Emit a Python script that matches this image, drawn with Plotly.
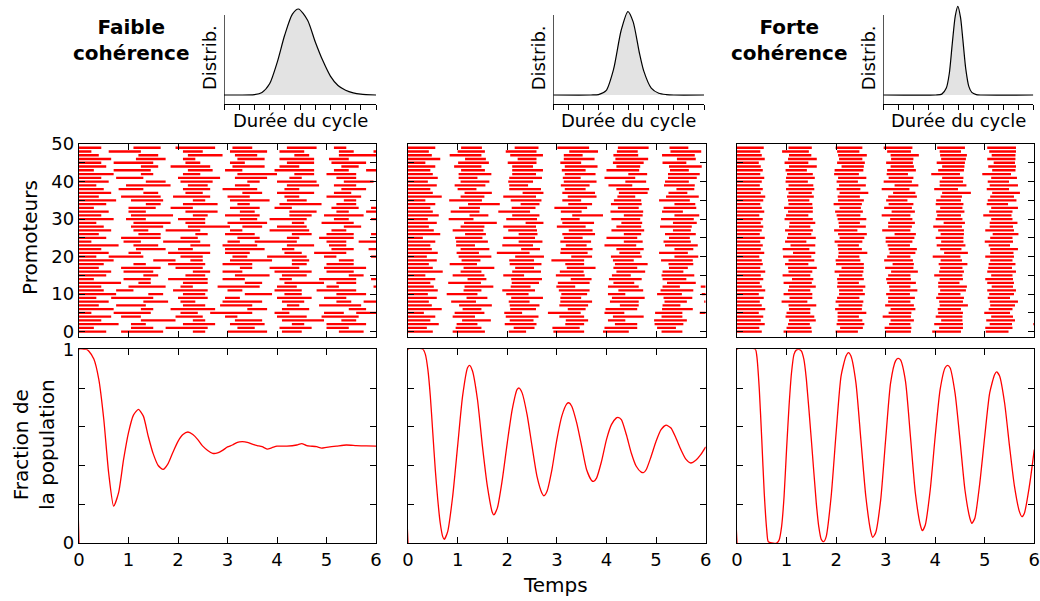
import plotly.graph_objects as go

W, H = 1040, 601

# ---- promoter rasters: alternating ON/OFF durations (hundredths of time unit), each row starts ON at t=0
weak_rows = [
    [55, 30, 85, 60, 25, 45, 80, 30, 40, 75, 50, 35, 70, 45],
    [30, 75, 45, 25, 85, 60, 35, 50, 65, 30, 45, 80, 35, 50],
    [80, 25, 30, 75, 65, 30, 70, 55, 25, 45, 80, 40, 30, 60],
    [45, 80, 70, 35, 25, 60, 55, 40, 85, 35, 30, 70, 55, 40],
    [65, 20, 40, 70, 55, 45, 25, 80, 60, 30, 75, 55, 35, 50],
    [25, 45, 75, 60, 35, 25, 85, 45, 30, 70, 40, 25, 65, 55],
    [70, 55, 25, 35, 90, 65, 40, 30, 55, 80, 35, 45, 60, 30],
    [40, 35, 60, 75, 45, 30, 65, 70, 25, 40, 85, 35, 50, 60],
    [60, 70, 50, 25, 30, 55, 80, 40, 45, 65, 30, 25, 75, 50],
    [35, 30, 85, 50, 60, 35, 30, 75, 70, 25, 45, 60, 40, 70],
    [75, 65, 30, 40, 45, 80, 55, 25, 35, 70, 60, 40, 30, 75],
    [50, 25, 35, 80, 70, 40, 30, 65, 55, 30, 80, 55, 45, 35],
    [45, 55, 75, 30, 25, 50, 85, 35, 40, 60, 25, 70, 65, 30],
    [85, 35, 25, 65, 50, 75, 35, 45, 80, 25, 40, 55, 30, 75],
    [30, 60, 55, 35, 80, 30, 45, 70, 25, 55, 75, 30, 45, 65],
    [55, 75, 30, 55, 40, 60, 70, 25, 50, 85, 30, 35, 60, 45],
    [65, 25, 60, 80, 35, 25, 40, 65, 75, 30, 55, 70, 25, 40],
    [40, 45, 80, 30, 55, 75, 25, 35, 60, 50, 85, 30, 40, 65],
    [50, 60, 25, 45, 75, 35, 60, 80, 30, 40, 55, 65, 35, 30],
    [70, 80, 45, 30, 25, 55, 85, 40, 35, 60, 30, 45, 75, 50],
    [35, 25, 70, 75, 45, 60, 30, 40, 80, 35, 25, 70, 55, 30],
    [60, 40, 25, 55, 85, 30, 50, 70, 35, 25, 65, 80, 40, 35],
    [45, 70, 60, 25, 30, 65, 80, 35, 25, 75, 45, 30, 70, 55],
    [80, 30, 50, 65, 40, 25, 70, 60, 55, 30, 35, 85, 45, 30],
    [25, 65, 35, 45, 75, 55, 25, 30, 85, 60, 40, 25, 65, 70],
    [55, 30, 80, 40, 35, 80, 45, 55, 25, 40, 70, 60, 30, 45],
    [40, 80, 45, 70, 25, 35, 60, 75, 40, 30, 55, 35, 80, 40],
    [65, 45, 30, 35, 70, 60, 25, 55, 80, 45, 30, 65, 40, 50],
    [50, 55, 65, 50, 85, 25, 40, 30, 60, 75, 35, 40, 70, 30],
    [35, 75, 75, 30, 40, 45, 80, 50, 25, 35, 65, 75, 30, 55],
    [70, 25, 40, 65, 55, 70, 35, 25, 75, 55, 30, 45, 85, 35],
    [45, 60, 85, 40, 30, 35, 70, 60, 45, 25, 80, 55, 35, 60],
    [60, 40, 35, 80, 65, 45, 30, 70, 55, 40, 25, 35, 75, 50],
    [30, 70, 55, 30, 45, 75, 60, 30, 35, 80, 55, 25, 60, 45],
    [55, 80, 30, 45, 70, 40, 25, 60, 85, 30, 40, 70, 30, 55],
    [75, 30, 65, 60, 25, 50, 80, 35, 40, 75, 25, 40, 65, 60],
    [40, 45, 80, 25, 75, 35, 45, 70, 30, 55, 70, 30, 55, 35],
    [65, 65, 30, 55, 35, 80, 40, 30, 75, 40, 35, 60, 85, 40],
    [50, 30, 50, 80, 55, 25, 70, 55, 30, 85, 50, 25, 40, 65],
    [35, 60, 90, 35, 40, 55, 30, 75, 65, 30, 45, 80, 25, 40],
    [60, 75, 40, 30, 65, 70, 25, 35, 80, 55, 60, 30, 45, 75],
    [45, 30, 55, 70, 85, 30, 65, 45, 25, 70, 40, 75, 30, 35],
    [70, 55, 25, 60, 35, 75, 80, 35, 40, 25, 60, 55, 70, 30],
    [30, 40, 75, 75, 50, 25, 35, 65, 80, 40, 30, 35, 85, 60],
    [55, 70, 35, 25, 80, 45, 65, 30, 40, 85, 35, 60, 30, 70],
    [45, 25, 80, 65, 30, 60, 30, 85, 55, 35, 70, 25, 60, 50],
    [65, 50, 60, 35, 25, 85, 55, 30, 70, 30, 40, 75, 65, 35],
    [40, 80, 40, 60, 70, 25, 45, 75, 30, 60, 85, 35, 30, 55],
    [25, 35, 65, 85, 40, 55, 75, 25, 50, 70, 30, 40, 80, 45],
    [45, 65, 55, 30, 80, 35, 40, 70, 60, 35, 25, 75, 50, 65],
]

mid_rows = [
    [50, 40, 65, 48, 35, 55, 62, 38, 52, 66, 42, 50, 58, 36],
    [38, 58, 52, 65, 42, 36, 55, 50, 66, 40, 38, 62, 50, 48],
    [62, 36, 42, 55, 64, 58, 38, 62, 45, 35, 58, 66, 40, 52],
    [45, 64, 58, 38, 48, 65, 45, 40, 35, 58, 66, 38, 62, 50],
    [55, 35, 45, 62, 66, 42, 50, 58, 62, 36, 42, 52, 64, 40],
    [32, 62, 60, 40, 36, 52, 66, 48, 40, 62, 55, 35, 48, 65],
    [68, 42, 38, 58, 52, 64, 36, 40, 64, 50, 62, 42, 36, 58],
    [48, 55, 66, 36, 60, 40, 58, 64, 38, 48, 36, 65, 58, 42],
    [42, 45, 50, 66, 42, 62, 64, 36, 58, 52, 45, 35, 66, 50],
    [58, 60, 42, 48, 64, 35, 42, 62, 66, 38, 58, 62, 36, 48],
    [40, 38, 62, 58, 45, 66, 52, 42, 35, 64, 50, 40, 62, 58],
    [60, 52, 36, 42, 66, 48, 62, 58, 50, 35, 66, 55, 42, 38],
    [52, 62, 58, 35, 40, 52, 38, 66, 62, 48, 35, 42, 64, 62],
    [45, 36, 66, 62, 55, 38, 64, 48, 42, 66, 58, 35, 52, 42],
    [55, 65, 38, 50, 62, 58, 42, 35, 66, 42, 48, 64, 38, 62],
    [35, 55, 64, 38, 42, 64, 58, 55, 38, 62, 66, 42, 50, 36],
    [70, 36, 42, 62, 58, 38, 48, 66, 58, 35, 42, 62, 66, 48],
    [50, 62, 62, 42, 38, 66, 58, 36, 48, 64, 38, 55, 42, 64],
    [42, 42, 55, 66, 64, 48, 38, 62, 66, 42, 50, 38, 62, 55],
    [58, 50, 38, 58, 50, 35, 66, 58, 42, 55, 64, 62, 38, 42],
    [38, 64, 66, 48, 58, 55, 42, 38, 62, 66, 48, 42, 58, 64],
    [60, 38, 45, 36, 66, 62, 55, 64, 42, 38, 58, 66, 48, 36],
    [48, 58, 58, 64, 38, 42, 64, 48, 55, 62, 38, 35, 66, 58],
    [45, 52, 38, 55, 62, 66, 42, 36, 64, 58, 66, 48, 42, 55],
    [55, 42, 64, 62, 48, 36, 62, 66, 38, 42, 55, 64, 62, 38],
    [30, 65, 55, 42, 64, 58, 38, 48, 62, 64, 42, 38, 50, 66],
    [65, 50, 42, 66, 38, 50, 66, 58, 35, 48, 62, 58, 38, 42],
    [52, 38, 62, 50, 58, 64, 48, 38, 66, 58, 36, 66, 62, 48],
    [42, 64, 48, 38, 66, 42, 58, 62, 50, 38, 64, 48, 42, 66],
    [58, 55, 66, 58, 36, 38, 64, 55, 42, 62, 48, 38, 66, 58],
    [40, 42, 50, 66, 62, 48, 38, 64, 58, 42, 66, 62, 48, 38],
    [62, 62, 38, 48, 55, 66, 62, 42, 38, 64, 50, 42, 58, 64],
    [50, 36, 58, 38, 64, 62, 42, 58, 66, 38, 42, 64, 55, 48],
    [45, 58, 42, 64, 48, 38, 66, 62, 42, 50, 66, 38, 62, 58],
    [55, 66, 64, 42, 38, 58, 48, 38, 62, 66, 42, 58, 38, 50],
    [35, 48, 66, 58, 62, 42, 38, 66, 55, 36, 62, 66, 42, 48],
    [68, 38, 48, 38, 66, 64, 58, 42, 36, 62, 66, 38, 50, 62],
    [50, 64, 55, 62, 42, 38, 66, 48, 58, 42, 38, 62, 66, 42],
    [45, 55, 38, 66, 64, 48, 42, 62, 66, 55, 36, 42, 62, 64],
    [58, 36, 62, 48, 38, 66, 58, 38, 48, 64, 62, 55, 38, 42],
    [40, 66, 58, 38, 50, 62, 66, 58, 42, 38, 48, 64, 58, 66],
    [60, 42, 38, 64, 66, 42, 36, 48, 62, 66, 58, 38, 42, 62],
    [50, 52, 66, 42, 48, 58, 62, 66, 38, 42, 64, 62, 38, 48],
    [45, 62, 48, 55, 62, 38, 48, 42, 66, 62, 38, 48, 66, 58],
    [55, 38, 55, 62, 42, 64, 66, 38, 48, 58, 66, 42, 36, 62],
    [35, 66, 62, 38, 58, 48, 42, 64, 62, 38, 48, 66, 58, 42],
    [65, 50, 42, 64, 38, 55, 62, 42, 66, 58, 38, 48, 64, 55],
    [48, 36, 64, 58, 66, 42, 38, 62, 50, 48, 66, 58, 42, 38],
    [42, 58, 55, 42, 62, 66, 58, 38, 42, 66, 62, 38, 48, 64],
    [55, 52, 42, 66, 48, 38, 64, 58, 62, 42, 38, 64, 66, 48],
]

strong_rows = [
    [50, 44, 57, 48, 45, 55, 52, 43, 58, 50, 46, 54, 45, 55],
    [45, 55, 50, 58, 46, 44, 54, 56, 48, 45, 55, 50, 57, 46],
    [56, 47, 44, 54, 56, 50, 43, 48, 58, 54, 45, 43, 52, 56],
    [48, 57, 54, 44, 50, 57, 47, 55, 43, 48, 58, 52, 45, 50],
    [53, 45, 58, 47, 43, 48, 57, 50, 54, 58, 44, 47, 56, 48],
    [44, 56, 48, 55, 58, 45, 46, 54, 50, 43, 52, 58, 47, 54],
    [57, 48, 43, 50, 54, 58, 50, 45, 47, 56, 48, 44, 57, 52],
    [50, 54, 56, 45, 48, 46, 58, 52, 57, 45, 50, 56, 44, 48],
    [46, 44, 52, 57, 56, 50, 45, 58, 48, 54, 57, 46, 50, 58],
    [54, 52, 46, 50, 45, 58, 54, 43, 56, 48, 45, 57, 54, 43],
    [44, 50, 58, 54, 52, 43, 48, 57, 45, 58, 50, 45, 58, 50],
    [57, 46, 45, 58, 48, 54, 56, 46, 52, 43, 58, 48, 43, 56],
    [50, 55, 54, 43, 57, 48, 43, 56, 58, 50, 43, 54, 50, 45],
    [46, 48, 57, 52, 43, 57, 58, 45, 43, 56, 54, 43, 57, 54],
    [53, 58, 43, 48, 54, 45, 50, 58, 47, 45, 56, 58, 45, 48],
    [48, 44, 56, 58, 47, 52, 45, 48, 57, 58, 43, 50, 54, 58],
    [57, 47, 48, 45, 58, 56, 54, 43, 50, 47, 58, 56, 43, 47],
    [47, 56, 58, 50, 45, 43, 57, 54, 45, 52, 48, 45, 58, 54],
    [52, 45, 47, 56, 56, 58, 43, 50, 58, 43, 54, 57, 48, 43],
    [50, 54, 52, 43, 50, 48, 58, 56, 43, 57, 45, 48, 56, 58],
    [45, 48, 57, 54, 43, 56, 47, 45, 56, 50, 58, 43, 47, 54],
    [55, 58, 45, 47, 58, 45, 52, 58, 48, 45, 47, 56, 58, 45],
    [48, 44, 54, 58, 48, 54, 57, 47, 43, 58, 56, 50, 43, 57],
    [52, 56, 50, 45, 43, 58, 45, 54, 58, 47, 43, 58, 54, 47],
    [47, 50, 43, 57, 56, 47, 54, 58, 45, 43, 57, 45, 56, 50],
    [56, 45, 58, 48, 50, 43, 58, 43, 56, 54, 45, 54, 48, 58],
    [46, 57, 47, 54, 58, 56, 43, 50, 47, 58, 52, 47, 58, 43],
    [50, 47, 56, 43, 47, 50, 57, 56, 52, 43, 58, 57, 45, 54],
    [53, 52, 43, 58, 54, 45, 48, 43, 58, 56, 47, 43, 57, 48],
    [48, 58, 52, 47, 43, 57, 54, 58, 43, 50, 56, 58, 47, 45],
    [52, 44, 57, 50, 58, 48, 45, 47, 54, 58, 43, 48, 54, 57],
    [45, 54, 45, 57, 48, 43, 58, 54, 48, 45, 57, 54, 43, 50],
    [55, 48, 50, 45, 56, 58, 47, 43, 57, 50, 47, 45, 58, 56],
    [50, 45, 58, 54, 43, 47, 56, 57, 45, 58, 54, 50, 48, 43],
    [47, 57, 48, 43, 57, 54, 50, 45, 56, 47, 43, 58, 52, 57],
    [53, 50, 43, 58, 52, 45, 43, 58, 50, 54, 58, 43, 57, 47],
    [57, 44, 54, 48, 45, 57, 58, 48, 43, 57, 48, 56, 43, 52],
    [48, 56, 47, 56, 58, 50, 45, 54, 58, 43, 56, 47, 58, 45],
    [52, 47, 57, 45, 48, 43, 56, 50, 48, 58, 45, 57, 47, 56],
    [46, 58, 50, 52, 54, 58, 48, 43, 54, 47, 57, 43, 54, 48],
    [50, 48, 45, 58, 43, 52, 57, 56, 47, 50, 43, 58, 45, 58],
    [55, 44, 58, 47, 57, 45, 50, 58, 43, 56, 52, 45, 57, 43],
    [47, 54, 52, 43, 50, 56, 43, 47, 58, 45, 58, 54, 48, 56],
    [52, 46, 43, 56, 58, 48, 58, 45, 52, 57, 47, 43, 58, 50],
    [48, 57, 56, 50, 45, 54, 47, 57, 45, 48, 56, 58, 43, 47],
    [44, 52, 48, 58, 56, 43, 54, 48, 57, 58, 43, 50, 56, 58],
    [56, 47, 58, 45, 47, 58, 45, 56, 50, 43, 57, 48, 45, 54],
    [50, 55, 45, 54, 58, 48, 57, 43, 54, 50, 48, 56, 58, 45],
    [47, 44, 54, 57, 45, 56, 48, 58, 43, 57, 54, 45, 50, 57],
    [54, 50, 47, 48, 54, 43, 58, 50, 56, 45, 58, 54, 43, 48],
]

# ---- fraction of the population (ON) over time
t_weak = [0, 0, 0.1, 0.15, 0.2, 0.3, 0.4, 0.5, 0.6, 0.7, 0.8, 0.9, 1.0, 1.1, 1.2, 1.3, 1.4,
          1.5, 1.6, 1.7, 1.8, 1.9, 2.0, 2.1, 2.2, 2.3, 2.4, 2.5, 2.6, 2.7, 2.8, 2.9, 3.0,
          3.1, 3.2, 3.3, 3.4, 3.5, 3.6, 3.7, 3.8, 3.9, 4.0, 4.2, 4.4, 4.5, 4.6, 4.8, 4.9,
          5.0, 5.2, 5.4, 5.6, 5.8, 6.0]
f_weak = [0, 1, 1, 1, 0.99, 0.95, 0.845, 0.64, 0.36, 0.19, 0.26, 0.43, 0.57, 0.66, 0.69,
          0.655, 0.55, 0.46, 0.40, 0.38, 0.41, 0.47, 0.525, 0.56, 0.573, 0.56, 0.534, 0.50,
          0.478, 0.463, 0.465, 0.478, 0.496, 0.506, 0.52, 0.523, 0.52, 0.51, 0.503, 0.497,
          0.485, 0.492, 0.50, 0.50, 0.506, 0.513, 0.503, 0.497, 0.49, 0.494, 0.50, 0.506,
          0.503, 0.501, 0.50]

t_mid = [0, 0, 0.3, 0.35, 0.4, 0.45, 0.5, 0.55, 0.6, 0.65, 0.7, 0.73, 0.8, 0.9, 1.0, 1.1,
         1.2, 1.24, 1.3, 1.4, 1.5, 1.6, 1.7, 1.73, 1.8, 1.9, 2.0, 2.1, 2.2, 2.24, 2.3, 2.4,
         2.5, 2.6, 2.7, 2.74, 2.8, 2.9, 3.0, 3.1, 3.2, 3.24, 3.3, 3.4, 3.5, 3.6, 3.7, 3.74,
         3.8, 3.9, 4.0, 4.1, 4.2, 4.23, 4.3, 4.4, 4.5, 4.6, 4.7, 4.75, 4.8, 4.9, 5.0, 5.1,
         5.2, 5.3, 5.4, 5.5, 5.6, 5.7, 5.8, 5.9, 6.0]
f_mid = [0, 1, 1, 0.974, 0.896, 0.758, 0.568, 0.378, 0.223, 0.102, 0.033, 0.019, 0.059,
         0.24, 0.50, 0.758, 0.905, 0.917, 0.888, 0.741, 0.50, 0.292, 0.157, 0.145, 0.18,
         0.326, 0.516, 0.689, 0.793, 0.80, 0.775, 0.663, 0.50, 0.344, 0.257, 0.244, 0.266,
         0.378, 0.534, 0.655, 0.718, 0.724, 0.706, 0.62, 0.50, 0.378, 0.323, 0.318, 0.335,
         0.421, 0.534, 0.611, 0.646, 0.649, 0.637, 0.56, 0.465, 0.396, 0.366, 0.364, 0.378,
         0.447, 0.525, 0.585, 0.608, 0.594, 0.542, 0.482, 0.433, 0.413, 0.427, 0.456, 0.496]

t_strong = [0, 0, 0.37, 0.4, 0.45, 0.5, 0.55, 0.6, 0.63, 0.7, 0.8, 0.85, 0.9, 0.95, 1.0,
            1.05, 1.1, 1.15, 1.2, 1.25, 1.3, 1.35, 1.4, 1.5, 1.6, 1.65, 1.7, 1.75, 1.8, 1.9,
            2.0, 2.1, 2.2, 2.25, 2.3, 2.4, 2.5, 2.6, 2.7, 2.74, 2.8, 2.9, 3.0, 3.1, 3.2,
            3.25, 3.3, 3.4, 3.5, 3.6, 3.7, 3.74, 3.8, 3.9, 4.0, 4.1, 4.2, 4.25, 4.3, 4.4,
            4.5, 4.6, 4.7, 4.74, 4.8, 4.9, 5.0, 5.1, 5.2, 5.24, 5.3, 5.4, 5.5, 5.6, 5.7,
            5.75, 5.8, 5.9, 6.0]
f_strong = [0, 1, 1, 0.965, 0.793, 0.534, 0.257, 0.067, 0.007, 0, 0, 0.016, 0.085, 0.24,
            0.482, 0.706, 0.879, 0.974, 0.997, 1.0, 0.991, 0.948, 0.845, 0.534, 0.206, 0.085,
            0.019, 0.007, 0.033, 0.24, 0.568, 0.862, 0.965, 0.983, 0.965, 0.827, 0.534, 0.24,
            0.059, 0.029, 0.054, 0.223, 0.534, 0.827, 0.94, 0.953, 0.945, 0.836, 0.551,
            0.257, 0.093, 0.064, 0.093, 0.275, 0.551, 0.793, 0.905, 0.917, 0.905, 0.775,
            0.534, 0.275, 0.128, 0.102, 0.128, 0.309, 0.551, 0.775, 0.87, 0.883, 0.862,
            0.724, 0.50, 0.292, 0.162, 0.136, 0.154, 0.292, 0.482]

# ---- cycle duration distributions (arbitrary units, peak ~1)
dur_weak = [0, 1, 2, 2.5, 3, 3.5, 4, 4.5, 4.9, 5.5, 6, 6.5, 7, 7.5, 8, 8.5, 9, 10]
dens_weak = [0, 0, 0.005, 0.03, 0.13, 0.38, 0.7, 0.94, 1.0, 0.87, 0.62, 0.4, 0.22, 0.11,
             0.055, 0.025, 0.01, 0]
dur_mid = [0, 2.5, 3, 3.5, 4, 4.5, 4.95, 5.3, 5.7, 6, 6.5, 7, 7.5, 8, 10]
dens_mid = [0, 0, 0.005, 0.05, 0.3, 0.75, 0.97, 0.85, 0.5, 0.28, 0.08, 0.02, 0.005, 0, 0]
dur_strong = [0, 3.5, 3.9, 4.2, 4.4, 4.6, 4.8, 4.97, 5.15, 5.3, 5.5, 5.7, 5.9, 6.2, 6.5, 10]
dens_strong = [0, 0, 0.01, 0.08, 0.25, 0.6, 0.92, 1.03, 0.9, 0.65, 0.3, 0.1, 0.03, 0.005, 0, 0]

rasters = [weak_rows, mid_rows, strong_rows]
curves = [(t_weak, f_weak), (t_mid, f_mid), (t_strong, f_strong)]
dists = [(dur_weak, dens_weak), (dur_mid, dens_mid), (dur_strong, dens_strong)]

col_px = [(79, 376), (408, 705.7), (737, 1034.3)]
dist_px = [(224, 376), (553.3, 704), (883.3, 1033.3)]
FONT = "DejaVu Sans"


def xp(p):
    return p / W


def yp(p):
    return 1 - p / H


def ref(k, n):
    return k if n == 1 else f"{k}{n}"


def segments(rows):
    xs, ys = [], []
    for r, durs in enumerate(rows):
        t = 0.0
        for k, d in enumerate(durs):
            t1 = t + d / 100
            if k % 2 == 0:
                xs += [t, min(t1, 6), None]
                ys += [r, r, None]
            t = t1
            if t >= 6:
                break
    return xs, ys


def label(text, x, y, size=18, angle=0):
    fig.add_annotation(text=text, x=xp(x), y=yp(y), xref="paper", yref="paper",
                       xanchor="center", yanchor="middle", textangle=angle, showarrow=False,
                       font=dict(size=size, family=FONT, color="black"))


fig = go.Figure()
frame = dict(showline=True, linecolor="black", linewidth=1.3, mirror="ticks",
             ticks="inside", ticklen=6, tickcolor="black", tickwidth=1.2, automargin=False,
             ticklabeloverflow="allow", showgrid=False, zeroline=False,
             tickfont=dict(size=18, family=FONT))
layout = {}
y_low = -9 / 86
for i in range(3):
    nr, nc, nd = i + 1, i + 4, i + 7
    x0, x1 = col_px[i]

    xs, ys = segments(rasters[i])
    fig.add_trace(go.Scatter(x=xs, y=ys, mode="lines", line=dict(color="#ff0000", width=2.3),
                             xaxis=ref("x", nr), yaxis=ref("y", nr), hoverinfo="skip"))
    layout[ref("xaxis", nr)] = dict(frame, domain=[xp(x0), xp(x1)], range=[0, 6], dtick=1,
                                    showticklabels=False, anchor=ref("y", nr))
    layout[ref("yaxis", nr)] = dict(frame, domain=[yp(337.3), yp(144)], range=[-1.5, 50],
                                    tickvals=list(range(0, 51, 5)),
                                    ticktext=[str(v) if v % 10 == 0 else "" for v in range(0, 51, 5)],
                                    showticklabels=(i == 0), anchor=ref("x", nr))

    t, f = curves[i]
    fig.add_trace(go.Scatter(x=t, y=f, mode="lines",
                             line=dict(color="#ff0000", width=1.3, shape="spline", smoothing=0.6),
                             xaxis=ref("x", nc), yaxis=ref("y", nc), hoverinfo="skip"))
    layout[ref("xaxis", nc)] = dict(frame, domain=[xp(x0), xp(x1)], range=[0, 6], dtick=1,
                                    anchor=ref("y", nc))
    layout[ref("yaxis", nc)] = dict(frame, domain=[yp(543), yp(349.3)], range=[0, 1],
                                    tickvals=[0, 0.2, 0.4, 0.6, 0.8, 1],
                                    ticktext=["0", "", "", "", "", "1"],
                                    showticklabels=(i == 0), anchor=ref("x", nc))

    d, p = dists[i]
    dx0, dx1 = dist_px[i]
    fig.add_trace(go.Scatter(x=d, y=p, mode="lines", fill="tozeroy", fillcolor="#e3e3e3",
                             line=dict(color="black", width=1.2, shape="spline", smoothing=0.7),
                             xaxis=ref("x", nd), yaxis=ref("y", nd), hoverinfo="skip"))
    layout[ref("xaxis", nd)] = dict(domain=[xp(dx0), xp(dx1)], range=[0, 10], tickvals=list(range(11)),
                                    showticklabels=False, ticks="outside", ticklen=5, tickcolor="black",
                                    showline=True, linecolor="black", linewidth=1.3, automargin=False,
                                    showgrid=False, zeroline=False, anchor=ref("y", nd))
    layout[ref("yaxis", nd)] = dict(domain=[yp(104), yp(4)], range=[y_low, 91 / 86], visible=False,
                                    automargin=False, anchor=ref("x", nd))
    fig.add_shape(type="line", xref=ref("x", nd), yref=ref("y", nd), x0=0, x1=0, y0=y_low, y1=80 / 86,
                  line=dict(color="black", width=1.3))
    label("Distrib.", dx0 - 15, 58, angle=-90)
    label("Durée du cycle", (dx0 + dx1) / 2, 120)

label("<b>Faible<br>cohérence</b>", 131, 40, size=20)
label("<b>Forte<br>cohérence</b>", 789, 40, size=20)
label("Promoteurs", 30, 238, size=20, angle=-90)
label("Fraction de<br>la population", 34, 445, size=20, angle=-90)
label("Temps", 555, 585, size=20)

fig.update_layout(width=W, height=H, margin=dict(l=0, r=0, t=0, b=0, pad=0, autoexpand=False),
                  showlegend=False, plot_bgcolor="white", paper_bgcolor="white",
                  font=dict(family=FONT, size=18, color="black"), **layout)
# drop the browser's default page margin so the figure fills the window exactly
fig.write_html("out.html", config={"displayModeBar": False},
               post_script="document.body.style.margin='0';document.body.style.overflow='hidden';")
